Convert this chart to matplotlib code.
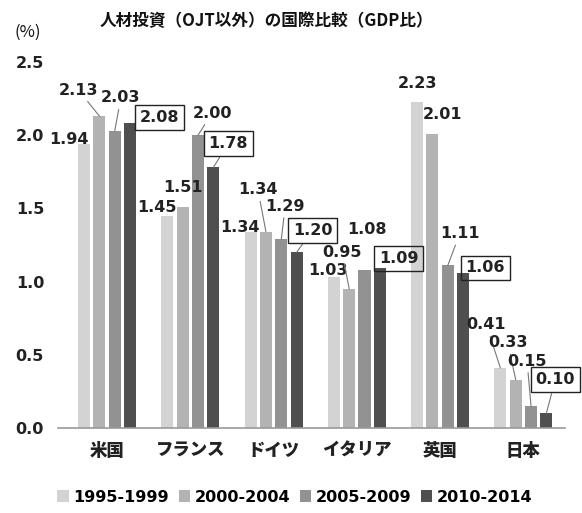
import matplotlib
matplotlib.use("Agg")
import matplotlib.pyplot as plt
from matplotlib.patches import Patch
import numpy as np

NUM_FONT = ["DejaVu Sans"]
JP_FONT = ["Noto Sans CJK JP", "DejaVu Sans"]

# ----------------------------------------------------------------------
# Datos
# ----------------------------------------------------------------------
countries = ["米国", "フランス", "ドイツ", "イタリア", "英国", "日本"]
periods = ["1995-1999", "2000-2004", "2005-2009", "2010-2014"]
v_1995 = [1.94, 1.45, 1.34, 1.03, 2.23, 0.41]
v_2000 = [2.13, 1.51, 1.34, 0.95, 2.01, 0.33]
v_2005 = [2.03, 2.00, 1.29, 1.08, 1.11, 0.15]
v_2010 = [2.08, 1.78, 1.20, 1.09, 1.06, 0.10]
series = [v_1995, v_2000, v_2005, v_2010]
colors = ["#d3d3d3", "#b3b3b3", "#929292", "#4f4f4f"]

# desplazamiento de cada etiqueta (px) desde la cima de la barra, y linea guia
label_offsets = [
    [(-15, 4, False), (-21, 26, True), (6, 33, True), (29, 6, False)],
    [(-10, 8, False), (0, 19, False), (14, 22, True), (15, 24, True)],
    [(-11, 4, False), (-8, 42, True), (4, 33, True), (16, 22, True)],
    [(-6, 7, False), (-7, 36, True), (2, 40, False), (19, 10, False)],
    [(0, 18, False), (10, 19, False), (12, 32, True), (22, 5, False)],
    [(-14, 43, True), (-8, 37, True), (-4, 45, True), (9, 34, True)],
]

fig = plt.figure(figsize=(5.82, 5.13), dpi=100)
ax = fig.add_axes([58 / 582, 85 / 513, (565 - 58) / 582, (428 - 62) / 513])

x = np.arange(len(countries))
pitch = 0.184
width = 0.145
for k, vals in enumerate(series):
    xs = x + (k - 1.5) * pitch
    ax.bar(xs, vals, width=width, color=colors[k], zorder=2)
    for i, v in enumerate(vals):
        dx, dy, leader = label_offsets[i][k]
        boxed = k == 3
        ax.annotate(
            f"{v:.2f}",
            xy=(xs[i], v),
            xytext=(dx, dy),
            textcoords="offset pixels",
            ha="center",
            va="center",
            fontsize=11.5,
            fontweight="bold",
            family=NUM_FONT,
            color="#222222",
            zorder=4,
            annotation_clip=False,
            bbox=dict(boxstyle="square,pad=0.3", fc="none", ec="#222222", lw=1.0) if boxed else None,
            arrowprops=dict(arrowstyle="-", color="#777777", lw=0.8, shrinkA=1, shrinkB=0) if leader else None,
        )

ticks = np.arange(0, 2.51, 0.5)
ax.set_xlim(-0.59, 5.5)
ax.set_ylim(0, 2.5)
ax.set_yticks(ticks)
ax.set_yticklabels([f"{t:.1f}" for t in ticks], fontsize=11.5,
                   fontweight="bold", family=NUM_FONT, color="#222222")
ax.set_xticks(x)
ax.set_xticklabels(countries, fontsize=12.5, fontweight="heavy",
                   family=JP_FONT, color="#222222")
ax.tick_params(axis="y", length=0, pad=10)
ax.tick_params(axis="x", length=0, pad=10)
for side in ["left", "right", "top"]:
    ax.spines[side].set_visible(False)
ax.spines["bottom"].set_color("#9a9a9a")
ax.spines["bottom"].set_linewidth(1.2)

fig.text(266 / 582, 1 - 21 / 513, "人材投資（OJT以外）の国際比較（GDP比）",
         ha="center", va="center", fontsize=12, family=JP_FONT,
         fontweight="bold", color="#111111")
fig.text(28 / 582, 1 - 32 / 513, "(%)", ha="center", va="center",
         fontsize=12, family=JP_FONT, color="#111111")

handles = [Patch(facecolor=c, edgecolor="none") for c in colors]
fig.legend(handles, periods, loc="center", bbox_to_anchor=(295 / 582, 16 / 513),
           ncol=4, frameon=False, handlelength=0.7, handleheight=0.7,
           handletextpad=0.3, columnspacing=0.6,
           prop=dict(size=11.5, weight="bold", family=NUM_FONT))

fig.savefig("out.png", dpi=100)
plt.close(fig)
